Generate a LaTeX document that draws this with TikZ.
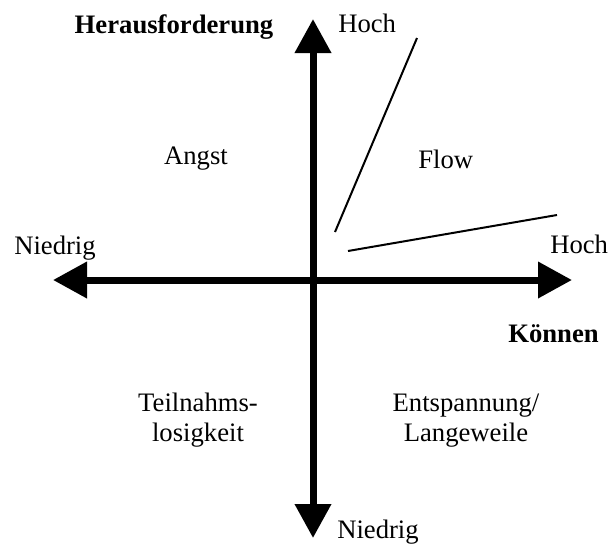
\documentclass[tikz,border=0pt]{standalone}
\usepackage{fontspec}
\setmainfont{Liberation Serif}
\usetikzlibrary{arrows.meta}
\begin{document}
\begin{tikzpicture}[x=0.75pt,y=-0.75pt,
  axis/.style={line width=5.25pt,{Triangle[length=25.5pt,width=26.25pt]}-{Triangle[length=25.5pt,width=26.25pt]}},
  thin line/.style={line width=1.5pt},
  lbl/.style={inner sep=0pt,font=\fontsize{20}{22.5}\selectfont},
  blbl/.style={lbl,font=\fontsize{20}{22.5}\selectfont\bfseries}]
\useasboundingbox (0,0) rectangle (611,547);
\coordinate (top) at (313,19);
\coordinate (bot) at (313,538);
\coordinate (lft) at (53,280);
\coordinate (rgt) at (572,280);
\draw[axis] (bot) -- (top);
\draw[axis] (lft) -- (rgt);
\coordinate (a1) at (335,232);
\coordinate (a2) at (417,38);
\coordinate (b1) at (348,251);
\coordinate (b2) at (557,215);
\draw[thin line] (a1) -- (a2);
\draw[thin line] (b1) -- (b2);
\node[blbl,anchor=base] (her) at (174,33) {Herausforderung};
\node[lbl,anchor=base west] (hochT) at (338,32) {Hoch};
\node[lbl,anchor=base] (angst) at (196,164) {Angst};
\node[lbl,anchor=base west] (flow) at (418,168) {Flow};
\node[lbl,anchor=base west] (niedL) at (14,254) {Niedrig};
\node[lbl,anchor=base west] (hochR) at (550,253) {Hoch};
\node[blbl,anchor=base west] (koennen) at (508,342) {Können};
\node[lbl,anchor=base,align=center] (teil) at (198,441) {Teilnahms-\\losigkeit};
\node[lbl,anchor=base,align=center] (entsp) at (466,441) {Entspannung/\\Langeweile};
\node[lbl,anchor=base west] (niedB) at (337,538) {Niedrig};
\end{tikzpicture}
\end{document}
